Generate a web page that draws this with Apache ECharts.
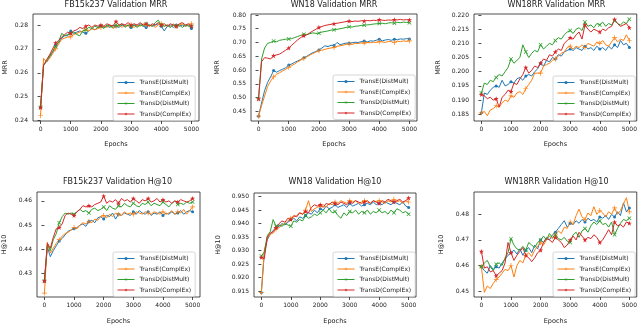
<!DOCTYPE html>
<html>
<head>
<meta charset="utf-8">
<script src="https://cdn.jsdelivr.net/npm/echarts@6/dist/echarts.min.js"></script>
<style>
  html, body { margin: 0; padding: 0; background: #fff; }
  #chart { width: 640px; height: 326px; }
</style>
</head>
<body>
<div id="chart"></div>
<script>
// 训练曲线：每100个epoch取一个验证点
const EPOCHS = [0,100,200,300,400,500,600,700,800,900,
  1000,1100,1200,1300,1400,1500,1600,1700,1800,1900,
  2000,2100,2200,2300,2400,2500,2600,2700,2800,2900,
  3000,3100,3200,3300,3400,3500,3600,3700,3800,3900,
  4000,4100,4200,4300,4400,4500,4600,4700,4800,4900,
  5000];
const X_TICKS = [0, 1000, 2000, 3000, 4000, 5000];
const NAMES = ['TransE(DistMult)', 'TransE(ComplEx)', 'TransD(DistMult)', 'TransD(ComplEx)'];

// ---- FB15k237 MRR ----
const fbMrrTeDm = [0.2455,0.2635,0.2645,0.2665,0.2685,0.2715,0.2725,0.2745,0.2755,0.2755,
  0.2775,0.2765,0.2770,0.2775,0.2770,0.2765,0.2775,0.2785,0.2780,0.2790,
  0.2795,0.2790,0.2795,0.2790,0.2800,0.2795,0.2790,0.2800,0.2795,0.2800,
  0.2790,0.2800,0.2795,0.2805,0.2795,0.2790,0.2800,0.2795,0.2800,0.2805,
  0.2795,0.2775,0.2795,0.2800,0.2790,0.2800,0.2795,0.2800,0.2795,0.2800,
  0.2785];
const fbMrrTeCe = [0.2420,0.2660,0.2645,0.2660,0.2680,0.2700,0.2720,0.2740,0.2745,0.2750,
  0.2750,0.2760,0.2765,0.2770,0.2775,0.2780,0.2775,0.2785,0.2780,0.2785,
  0.2790,0.2795,0.2790,0.2800,0.2785,0.2795,0.2800,0.2790,0.2800,0.2795,
  0.2800,0.2790,0.2800,0.2795,0.2805,0.2800,0.2795,0.2800,0.2790,0.2800,
  0.2805,0.2795,0.2800,0.2790,0.2805,0.2795,0.2800,0.2805,0.2795,0.2800,
  0.2805];
const fbMrrTdDm = [0.2455,0.2630,0.2650,0.2670,0.2690,0.2710,0.2730,0.2765,0.2755,0.2760,
  0.2765,0.2770,0.2760,0.2755,0.2775,0.2780,0.2790,0.2785,0.2795,0.2790,
  0.2795,0.2785,0.2800,0.2795,0.2790,0.2800,0.2795,0.2805,0.2790,0.2800,
  0.2795,0.2800,0.2790,0.2800,0.2795,0.2805,0.2800,0.2795,0.2810,0.2820,
  0.2800,0.2795,0.2800,0.2790,0.2800,0.2795,0.2800,0.2790,0.2800,0.2795,
  0.2795];
const fbMrrTdCe = [0.2455,0.2630,0.2655,0.2675,0.2700,0.2725,0.2735,0.2750,0.2760,0.2770,
  0.2765,0.2775,0.2780,0.2790,0.2785,0.2795,0.2800,0.2790,0.2800,0.2795,
  0.2800,0.2795,0.2805,0.2800,0.2795,0.2815,0.2800,0.2805,0.2800,0.2810,
  0.2800,0.2805,0.2800,0.2810,0.2800,0.2805,0.2795,0.2805,0.2800,0.2810,
  0.2800,0.2805,0.2795,0.2805,0.2800,0.2795,0.2805,0.2810,0.2800,0.2805,
  0.2795];
const fbMrrTicks = [0.24, 0.25, 0.26, 0.27, 0.28];

// ---- WN18 MRR ----
const wnMrrTeDm = [0.432,0.480,0.525,0.555,0.575,0.598,0.592,0.598,0.603,0.608,
  0.618,0.622,0.628,0.633,0.638,0.645,0.650,0.657,0.663,0.667,
  0.673,0.680,0.688,0.685,0.690,0.689,0.700,0.692,0.695,0.698,
  0.697,0.699,0.701,0.700,0.703,0.705,0.702,0.706,0.705,0.708,
  0.712,0.706,0.709,0.711,0.708,0.712,0.710,0.713,0.712,0.714,
  0.713];
const wnMrrTeCe = [0.432,0.470,0.505,0.540,0.560,0.575,0.585,0.590,0.597,0.602,
  0.610,0.616,0.622,0.630,0.636,0.642,0.648,0.654,0.660,0.665,
  0.670,0.672,0.675,0.678,0.680,0.682,0.686,0.688,0.690,0.693,
  0.695,0.693,0.697,0.696,0.699,0.698,0.700,0.699,0.701,0.700,
  0.703,0.702,0.700,0.704,0.703,0.700,0.705,0.703,0.706,0.704,
  0.706];
const wnMrrTdDm = [0.495,0.640,0.680,0.697,0.700,0.705,0.703,0.708,0.710,0.712,
  0.713,0.714,0.718,0.722,0.726,0.730,0.729,0.732,0.735,0.733,
  0.734,0.738,0.740,0.742,0.745,0.746,0.748,0.750,0.752,0.755,
  0.757,0.756,0.759,0.760,0.762,0.763,0.764,0.765,0.767,0.768,
  0.769,0.770,0.768,0.771,0.772,0.770,0.773,0.772,0.774,0.773,
  0.772];
const wnMrrTdCe = [0.495,0.630,0.645,0.643,0.640,0.652,0.655,0.658,0.665,0.672,
  0.680,0.690,0.700,0.710,0.718,0.725,0.728,0.735,0.742,0.748,
  0.755,0.758,0.762,0.764,0.766,0.768,0.770,0.772,0.774,0.776,
  0.778,0.776,0.778,0.777,0.779,0.778,0.780,0.779,0.781,0.780,
  0.783,0.781,0.780,0.782,0.781,0.783,0.782,0.784,0.782,0.783,
  0.782];
const wnMrrTicks = [0.45, 0.50, 0.55, 0.60, 0.65, 0.70, 0.75, 0.80];

// ---- WN18RR MRR ----
const rrMrrTeDm = [0.1855,0.1925,0.1920,0.1935,0.1945,0.1950,0.1945,0.1970,0.1950,0.1955,
  0.1965,0.1960,0.1975,0.1980,0.1970,0.1985,0.1990,0.1985,0.2000,0.2010,
  0.2030,0.2020,0.2040,0.2035,0.2050,0.2045,0.2060,0.2055,0.2070,0.2075,
  0.2080,0.2075,0.2085,0.2080,0.2075,0.2090,0.2080,0.2085,0.2075,0.2090,
  0.2080,0.2085,0.2075,0.2090,0.2080,0.2095,0.2085,0.2110,0.2095,0.2100,
  0.2085];
const rrMrrTeCe = [0.1855,0.1860,0.1845,0.1865,0.1870,0.1880,0.1875,0.1890,0.1900,0.1895,
  0.1915,0.1910,0.1925,0.1930,0.1920,0.1940,0.1955,0.1970,0.1995,0.1995,
  0.1995,0.2020,0.2025,0.2030,0.2040,0.2045,0.2055,0.2065,0.2070,0.2085,
  0.2090,0.2080,0.2090,0.2085,0.2095,0.2085,0.2100,0.2095,0.2090,0.2105,
  0.2100,0.2110,0.2095,0.2090,0.2105,0.2120,0.2105,0.2115,0.2110,0.2130,
  0.2110];
const rrMrrTdDm = [0.1925,0.1960,0.1955,0.1970,0.1965,0.1980,0.1990,0.1985,0.2000,0.2015,
  0.2045,0.2030,0.2040,0.2050,0.2095,0.2070,0.2050,0.2065,0.2075,0.2070,
  0.2095,0.2080,0.2090,0.2100,0.2095,0.2110,0.2120,0.2115,0.2130,0.2140,
  0.2145,0.2135,0.2150,0.2155,0.2145,0.2175,0.2160,0.2165,0.2155,0.2170,
  0.2165,0.2175,0.2160,0.2170,0.2165,0.2180,0.2170,0.2165,0.2175,0.2170,
  0.2185];
const rrMrrTdCe = [0.1920,0.1915,0.1905,0.1910,0.1900,0.1905,0.1875,0.1910,0.1920,0.1935,
  0.1930,0.1960,0.1955,0.1975,0.1990,0.2015,0.1995,0.2005,0.2020,0.2015,
  0.2030,0.2045,0.2040,0.2060,0.2055,0.2070,0.2080,0.2075,0.2100,0.2110,
  0.2120,0.2115,0.2130,0.2140,0.2115,0.2165,0.2150,0.2140,0.2150,0.2145,
  0.2140,0.2150,0.2145,0.2155,0.2160,0.2185,0.2170,0.2160,0.2165,0.2170,
  0.2155];
const rrMrrTicks = [0.185, 0.190, 0.195, 0.200, 0.205, 0.210, 0.215, 0.220];

// ---- FB15k237 H@10 ----
const fbHitTeDm = [0.4270,0.4410,0.4370,0.4395,0.4415,0.4435,0.4445,0.4460,0.4475,0.4480,
  0.4485,0.4490,0.4500,0.4505,0.4495,0.4515,0.4520,0.4510,0.4530,0.4535,
  0.4525,0.4540,0.4535,0.4550,0.4525,0.4545,0.4540,0.4550,0.4545,0.4540,
  0.4555,0.4545,0.4560,0.4550,0.4545,0.4555,0.4540,0.4550,0.4545,0.4555,
  0.4540,0.4550,0.4545,0.4555,0.4545,0.4550,0.4560,0.4545,0.4555,0.4560,
  0.4555];
const fbHitTeCe = [0.4220,0.4430,0.4385,0.4405,0.4425,0.4440,0.4455,0.4465,0.4470,0.4480,
  0.4490,0.4485,0.4500,0.4510,0.4505,0.4515,0.4510,0.4525,0.4520,0.4535,
  0.4540,0.4530,0.4545,0.4535,0.4550,0.4545,0.4540,0.4555,0.4545,0.4550,
  0.4545,0.4555,0.4550,0.4545,0.4555,0.4550,0.4545,0.4555,0.4550,0.4545,
  0.4555,0.4545,0.4550,0.4560,0.4545,0.4555,0.4550,0.4565,0.4545,0.4560,
  0.4575];
const fbHitTdDm = [0.4270,0.4420,0.4395,0.4440,0.4465,0.4510,0.4535,0.4550,0.4545,0.4550,
  0.4545,0.4555,0.4565,0.4555,0.4560,0.4550,0.4565,0.4570,0.4560,0.4565,
  0.4575,0.4560,0.4580,0.4570,0.4565,0.4580,0.4575,0.4590,0.4580,0.4575,
  0.4590,0.4580,0.4575,0.4590,0.4585,0.4595,0.4580,0.4590,0.4585,0.4580,
  0.4595,0.4585,0.4575,0.4590,0.4600,0.4585,0.4590,0.4585,0.4595,0.4590,
  0.4595];
const fbHitTdCe = [0.4270,0.4425,0.4405,0.4450,0.4485,0.4490,0.4505,0.4540,0.4550,0.4545,
  0.4540,0.4555,0.4565,0.4580,0.4575,0.4580,0.4575,0.4585,0.4590,0.4595,
  0.4620,0.4590,0.4600,0.4595,0.4605,0.4590,0.4610,0.4600,0.4605,0.4595,
  0.4610,0.4600,0.4590,0.4605,0.4600,0.4610,0.4595,0.4600,0.4610,0.4595,
  0.4605,0.4595,0.4600,0.4590,0.4600,0.4595,0.4605,0.4600,0.4595,0.4600,
  0.4610];
const fbHitTicks = [0.43, 0.44, 0.45, 0.46];

// ---- WN18 H@10 ----
const wnHitTeDm = [0.9145,0.9290,0.9340,0.9360,0.9375,0.9385,0.9390,0.9400,0.9395,0.9405,
  0.9415,0.9420,0.9410,0.9425,0.9420,0.9430,0.9440,0.9435,0.9450,0.9440,
  0.9455,0.9450,0.9465,0.9455,0.9460,0.9470,0.9460,0.9465,0.9470,0.9460,
  0.9475,0.9465,0.9470,0.9475,0.9465,0.9470,0.9475,0.9470,0.9480,0.9470,
  0.9475,0.9470,0.9480,0.9475,0.9470,0.9480,0.9475,0.9470,0.9480,0.9465,
  0.9460];
const wnHitTeCe = [0.9145,0.9300,0.9345,0.9360,0.9365,0.9380,0.9385,0.9395,0.9400,0.9410,
  0.9420,0.9425,0.9430,0.9440,0.9435,0.9450,0.9485,0.9445,0.9455,0.9460,
  0.9465,0.9470,0.9460,0.9475,0.9470,0.9480,0.9475,0.9485,0.9480,0.9475,
  0.9485,0.9480,0.9485,0.9475,0.9480,0.9485,0.9480,0.9475,0.9485,0.9480,
  0.9485,0.9480,0.9475,0.9485,0.9480,0.9490,0.9480,0.9485,0.9475,0.9485,
  0.9480];
const wnHitTdDm = [0.9280,0.9295,0.9355,0.9370,0.9415,0.9390,0.9395,0.9390,0.9400,0.9395,
  0.9390,0.9410,0.9405,0.9415,0.9410,0.9430,0.9420,0.9425,0.9435,0.9430,
  0.9440,0.9450,0.9440,0.9455,0.9440,0.9445,0.9430,0.9420,0.9440,0.9430,
  0.9445,0.9440,0.9450,0.9435,0.9445,0.9440,0.9450,0.9435,0.9445,0.9440,
  0.9450,0.9440,0.9445,0.9435,0.9450,0.9440,0.9455,0.9450,0.9440,0.9445,
  0.9435];
const wnHitTdCe = [0.9275,0.9270,0.9350,0.9365,0.9370,0.9385,0.9400,0.9410,0.9405,0.9420,
  0.9415,0.9430,0.9425,0.9440,0.9435,0.9445,0.9440,0.9460,0.9470,0.9465,
  0.9470,0.9460,0.9475,0.9470,0.9480,0.9475,0.9470,0.9480,0.9475,0.9470,
  0.9480,0.9475,0.9485,0.9480,0.9475,0.9480,0.9485,0.9475,0.9485,0.9480,
  0.9475,0.9485,0.9480,0.9490,0.9485,0.9480,0.9485,0.9490,0.9480,0.9485,
  0.9495];
const wnHitTicks = [0.915, 0.920, 0.925, 0.930, 0.935, 0.940, 0.945, 0.950];

// ---- WN18RR H@10 ----
const rrHitTeDm = [0.4595,0.4580,0.4570,0.4600,0.4585,0.4595,0.4590,0.4610,0.4625,0.4640,
  0.4650,0.4660,0.4645,0.4665,0.4640,0.4660,0.4670,0.4650,0.4680,0.4665,
  0.4700,0.4690,0.4710,0.4700,0.4720,0.4730,0.4745,0.4760,0.4775,0.4750,
  0.4765,0.4760,0.4775,0.4765,0.4780,0.4770,0.4785,0.4775,0.4780,0.4770,
  0.4790,0.4785,0.4795,0.4780,0.4800,0.4790,0.4810,0.4795,0.4845,0.4810,
  0.4825];
const rrHitTeCe = [0.4595,0.4495,0.4520,0.4510,0.4530,0.4545,0.4555,0.4570,0.4585,0.4580,
  0.4600,0.4555,0.4600,0.4620,0.4610,0.4640,0.4650,0.4635,0.4660,0.4675,
  0.4690,0.4680,0.4700,0.4715,0.4705,0.4720,0.4735,0.4725,0.4750,0.4745,
  0.4770,0.4760,0.4795,0.4820,0.4790,0.4780,0.4805,0.4795,0.4830,0.4800,
  0.4815,0.4805,0.4790,0.4810,0.4800,0.4825,0.4800,0.4815,0.4840,0.4865,
  0.4810];
const rrHitTdDm = [0.4595,0.4610,0.4620,0.4595,0.4580,0.4605,0.4610,0.4600,0.4630,0.4650,
  0.4705,0.4680,0.4665,0.4660,0.4675,0.4660,0.4690,0.4680,0.4670,0.4690,
  0.4700,0.4715,0.4700,0.4725,0.4710,0.4720,0.4705,0.4700,0.4710,0.4695,
  0.4690,0.4720,0.4730,0.4710,0.4735,0.4745,0.4730,0.4755,0.4770,0.4760,
  0.4775,0.4760,0.4765,0.4750,0.4770,0.4720,0.4745,0.4765,0.4780,0.4775,
  0.4785];
const rrHitTdCe = [0.4655,0.4590,0.4595,0.4575,0.4580,0.4560,0.4570,0.4580,0.4610,0.4690,
  0.4650,0.4620,0.4640,0.4655,0.4670,0.4640,0.4630,0.4615,0.4630,0.4650,
  0.4660,0.4690,0.4705,0.4700,0.4690,0.4710,0.4700,0.4690,0.4670,0.4680,
  0.4700,0.4715,0.4700,0.4730,0.4715,0.4700,0.4710,0.4705,0.4720,0.4710,
  0.4690,0.4700,0.4720,0.4740,0.4720,0.4770,0.4755,0.4760,0.4750,0.4770,
  0.4765];
const rrHitTicks = [0.45, 0.46, 0.47, 0.48];

// 样式（matplotlib 默认配色 + 标记）
const COLORS = ['#1f77b4', '#ff7f0e', '#2ca02c', '#d62728'];
const PLUS = 'path://M4.3,0H5.7V4.3H10V5.7H5.7V10H4.3V5.7H0V4.3H4.3Z';
const STAR = 'path://M5,0L6.2,3.6L10,3.6L6.9,5.8L8.1,9.5L5,7.2L1.9,9.5L3.1,5.8L0,3.6L3.8,3.6Z';
const MARKERS = ['circle', PLUS, PLUS, STAR];
const MARKER_SIZE = [3, 5, 5, 5];
const FONT = 'DejaVu Sans';
const TXT = '#222';

const PANELS = [
  { title: 'FB15k237 Validation MRR', yName: 'MRR', box: [33, 14, 166, 107], y: [0.2398, 0.2846], ticks: fbMrrTicks, dec: 2,
    yGap: 24, xGap: 20, legend: [113, 76], data: [fbMrrTeDm, fbMrrTeCe, fbMrrTdDm, fbMrrTdCe] },
  { title: 'WN18 Validation MRR', yName: 'MRR', box: [251, 14, 166, 107], y: [0.4146, 0.8036], ticks: wnMrrTicks, dec: 2,
    yGap: 30, xGap: 20, legend: [333, 75], data: [wnMrrTeDm, wnMrrTeCe, wnMrrTdDm, wnMrrTdCe] },
  { title: 'WN18RR Validation MRR', yName: 'MRR', box: [474, 14, 165, 107], y: [0.18263, 0.22035], ticks: rrMrrTicks, dec: 3,
    yGap: 32, xGap: 20, legend: [553, 76], data: [rrMrrTeDm, rrMrrTeCe, rrMrrTdDm, rrMrrTdCe] },
  { title: 'FB15k237 Validation H@10', yName: 'H@10', box: [35, 192, 165, 107], y: [0.4204, 0.46365], ticks: fbHitTicks, dec: 2,
    yGap: 29, xGap: 21, legend: [113, 252], data: [fbHitTeDm, fbHitTeCe, fbHitTdDm, fbHitTdCe] },
  { title: 'WN18 Validation H@10', yName: 'H@10', box: [254, 193, 162, 106], y: [0.91282, 0.95134], ticks: wnHitTicks, dec: 3,
    yGap: 32, xGap: 21, legend: [333, 252], data: [wnHitTeDm, wnHitTeCe, wnHitTdDm, wnHitTdCe] },
  { title: 'WN18RR Validation H@10', yName: 'H@10', box: [474, 192, 165, 107], y: [0.44769, 0.48873], ticks: rrHitTicks, dec: 2,
    yGap: 29, xGap: 21, legend: [553, 252], data: [rrHitTeDm, rrHitTeCe, rrHitTdDm, rrHitTdCe] }
];

const grid = [], xAxis = [], yAxis = [], series = [], legend = [], graphic = [];
const tickStyle = { length: 3, lineStyle: { color: TXT, width: 0.8 } };
const labelStyle = { fontSize: 6, fontFamily: FONT, color: TXT };

PANELS.forEach((p, k) => {
  const [l, t, w, h] = p.box;
  grid.push({ left: l, top: t, width: w, height: h, show: true, borderColor: TXT, borderWidth: 0.8, backgroundColor: '#fff' });
  xAxis.push({
    type: 'value', gridIndex: k, min: -250, max: 5250,
    name: 'Epochs', nameLocation: 'middle', nameGap: p.xGap,
    nameTextStyle: { fontSize: 6.5, fontFamily: FONT, color: TXT },
    axisLine: { show: false }, splitLine: { show: false },
    axisTick: Object.assign({ customValues: X_TICKS }, tickStyle),
    axisLabel: Object.assign({ customValues: X_TICKS, margin: 5, formatter: v => String(v) }, labelStyle)
  });
  yAxis.push({
    type: 'value', gridIndex: k, min: p.y[0], max: p.y[1],
    name: p.yName, nameLocation: 'middle', nameGap: p.yGap, nameRotate: 90,
    nameTextStyle: { fontSize: 6.5, fontFamily: FONT, color: TXT },
    axisLine: { show: false }, splitLine: { show: false },
    axisTick: Object.assign({ customValues: p.ticks }, tickStyle),
    axisLabel: Object.assign({ customValues: p.ticks, margin: 5, formatter: v => v.toFixed(p.dec) }, labelStyle)
  });
  p.data.forEach((vals, j) => {
    series.push({
      type: 'line', name: NAMES[j], xAxisIndex: k, yAxisIndex: k,
      data: EPOCHS.map((e, i) => [e, vals[i]]),
      color: COLORS[j],
      lineStyle: { width: 1 },
      symbol: MARKERS[j],
      symbolRotate: j === 2 ? 45 : 0,
      symbolSize: (v, prm) => (prm.dataIndex % 5 === 0 ? MARKER_SIZE[j] : 0),
      showAllSymbol: true,
      silent: true,
      animation: false
    });
  });
  legend.push({
    left: p.legend[0], top: p.legend[1], orient: 'vertical', data: NAMES,
    itemWidth: 17, itemHeight: 4, itemGap: 3.5, padding: [3, 4],
    borderColor: '#ccc', borderWidth: 0.8, borderRadius: 2,
    backgroundColor: 'rgba(255,255,255,0.85)', selectedMode: false,
    lineStyle: { width: 1 },
    textStyle: { fontSize: 6, fontFamily: FONT, color: TXT, lineHeight: 7 }
  });
  graphic.push({
    type: 'text', x: l + w / 2, y: k < 3 ? 5 : 182, silent: true,
    style: { text: p.title, fontSize: 8, fontFamily: FONT, fill: TXT, align: 'center', verticalAlign: 'middle' }
  });
});

const chart = echarts.init(document.getElementById('chart'));
chart.setOption({
  animation: false,
  backgroundColor: '#fff',
  grid, xAxis, yAxis, series, legend, graphic
});
</script>
</body>
</html>
